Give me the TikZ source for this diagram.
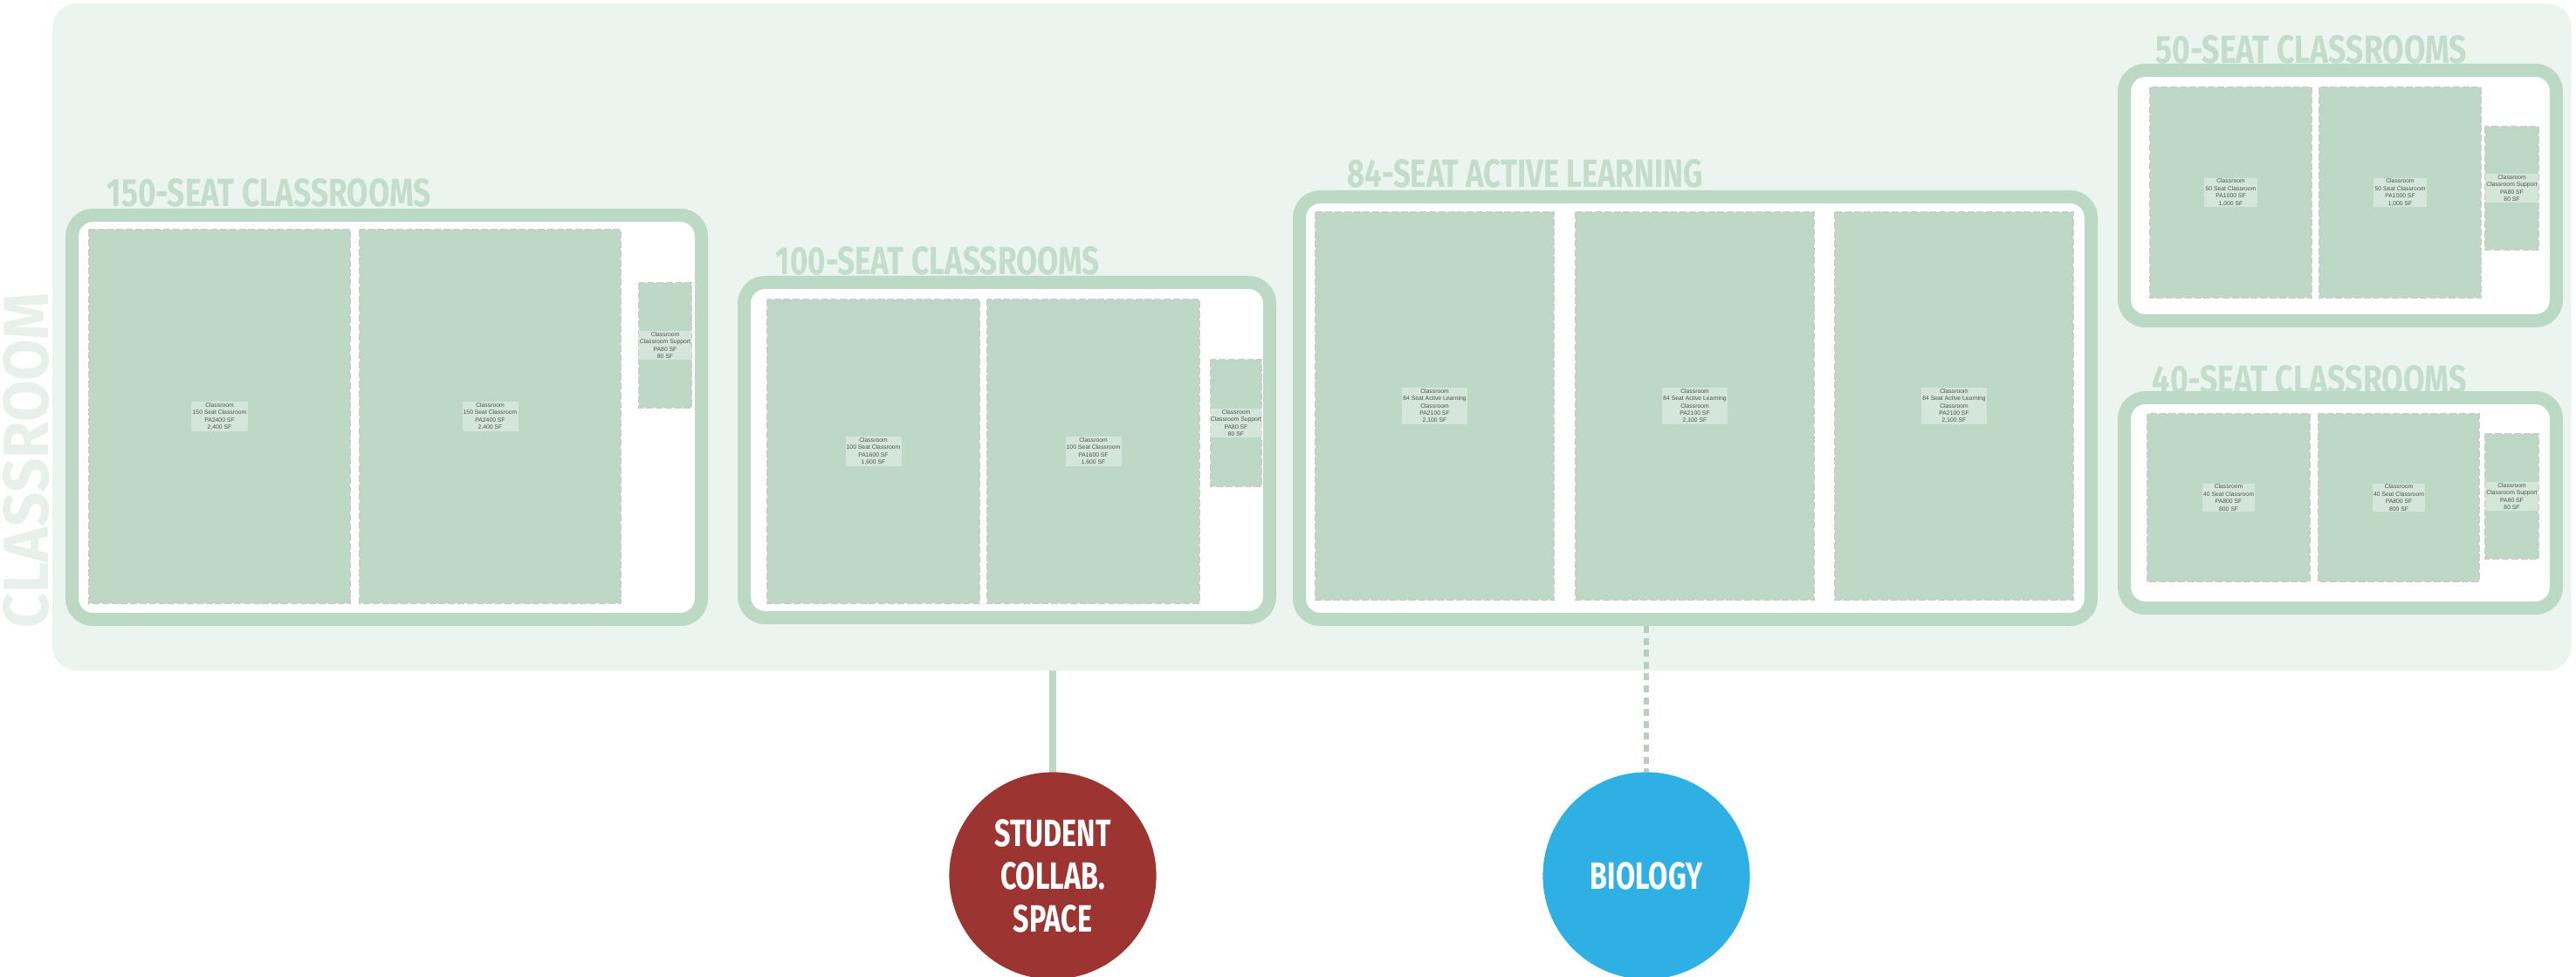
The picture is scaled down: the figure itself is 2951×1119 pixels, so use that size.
\documentclass[tikz,border=0pt]{standalone}
\usepackage{fontspec}
\setmainfont{Fira Sans}
\newfontfamily\arialf{Liberation Sans}
\usepackage{graphicx}
\usetikzlibrary{fit}
\definecolor{framegreen}{HTML}{BCD9C6}
\definecolor{roomgreen}{HTML}{BDD9C6}
\definecolor{bgcol}{HTML}{ECF4EF}
\definecolor{lblcol}{HTML}{C2DDCA}
\definecolor{cltxt}{HTML}{E8F0EB}
\definecolor{stured}{HTML}{9C3532}
\definecolor{bioblue}{HTML}{2FB0E4}
\newcommand\cnd[1]{\scalebox{0.74}[1]{#1}}
\newcommand\roombox[6]{%
  \draw[room] (#2,#3) rectangle (#4,#5);
  \node[rtxt] (#1) at ({(#2+#4)/2},{(#3+#5)/2}) {#6};}
\begin{document}
\begin{tikzpicture}[x=0.25pt,y=-0.25pt,
  frame/.style={draw=framegreen, line width=3.75pt, fill=white, rounded corners=6pt, inner sep=0pt},
  room/.style={fill=roomgreen, draw=gray!40, line width=0.3pt, dash pattern=on 2pt off 0.7pt},
  rtxt/.style={font=\arialf\fontsize{1.7}{2.1}\selectfont, text=gray!50!black, align=center, fill=white, fill opacity=0.35, text opacity=0.9, inner sep=0.3pt},
  lbl/.style={text=lblcol, inner sep=0pt, anchor=south west},
  circ/.style={circle, minimum size=59.3pt, inner sep=0pt, text=white, align=center, font=\bfseries\fontsize{10.9}{12.25}\selectfont},
  link/.style={draw=framegreen, line width=1.8pt},
  dlink/.style={draw=framegreen!90!gray, line width=1.4pt, dash pattern=on 2pt off 1.4pt}
]
\useasboundingbox (0,0) rectangle (2951,1119);
% background panel
\fill[bgcol, rounded corners=7pt] (60,4) rectangle (2946,768);
% vertical title
\node[rotate=90, inner sep=0pt, text=cltxt] (cl) at (30,527) {\resizebox{96pt}{13pt}{\bfseries CLASSROOM}};
% group labels
\node[lbl] (l150) at (122,238) {\resizebox{92.75pt}{8pt}{\bfseries 150-SEAT CLASSROOMS}};
\node[lbl] (l100) at (888,316) {\resizebox{92.75pt}{8pt}{\bfseries 100-SEAT CLASSROOMS}};
\node[lbl] (l84) at (1543,216) {\resizebox{101.75pt}{8pt}{\bfseries 84-SEAT ACTIVE LEARNING}};
\node[lbl] (l50) at (2469,74) {\resizebox{89pt}{8pt}{\bfseries 50-SEAT CLASSROOMS}};
\node[lbl] (l40) at (2465,452) {\resizebox{90pt}{8pt}{\bfseries 40-SEAT CLASSROOMS}};
% group frames
\node[frame, fit={(82.5,246.5) (803.5,709.5)}] (f150) {};
\node[frame, fit={(852.5,323.5) (1454.5,707.5)}] (f100) {};
\node[frame, fit={(1488.5,225.5) (2395.5,709.5)}] (f84) {};
\node[frame, fit={(2433.5,80.5) (2928.5,367.5)}] (f50) {};
\node[frame, fit={(2433.5,455.5) (2928.5,696.5)}] (f40) {};
% 150-seat rooms
\roombox{r150a}{102}{263}{401}{691}{Classroom\\150 Seat Classroom\\PA2400 SF\\2,400 SF}
\roombox{r150b}{412}{263}{711}{691}{Classroom\\150 Seat Classroom\\PA2400 SF\\2,400 SF}
\roombox{r150s}{732}{324}{792}{467}{Classroom\\Classroom Support\\PA80 SF\\80 SF}
% 100-seat rooms
\roombox{r100a}{879}{343}{1122}{691}{Classroom\\100 Seat Classroom\\PA1600 SF\\1,600 SF}
\roombox{r100b}{1131}{343}{1374}{691}{Classroom\\100 Seat Classroom\\PA1600 SF\\1,600 SF}
\roombox{r100s}{1387}{412}{1445}{557}{Classroom\\Classroom Support\\PA80 SF\\80 SF}
% 84-seat rooms
\roombox{r84a}{1507}{243}{1780}{687}{Classroom\\84 Seat Active Learning\\Classroom\\PA2100 SF\\2,100 SF}
\roombox{r84b}{1805}{243}{2078}{687}{Classroom\\84 Seat Active Learning\\Classroom\\PA2100 SF\\2,100 SF}
\roombox{r84c}{2102}{243}{2375}{687}{Classroom\\84 Seat Active Learning\\Classroom\\PA2100 SF\\2,100 SF}
% 50-seat rooms
\roombox{r50a}{2463}{100}{2648}{341}{Classroom\\50 Seat Classroom\\PA1000 SF\\1,000 SF}
\roombox{r50b}{2657}{100}{2842}{341}{Classroom\\50 Seat Classroom\\PA1000 SF\\1,000 SF}
\roombox{r50s}{2847}{145}{2908}{286}{Classroom\\Classroom Support\\PA80 SF\\80 SF}
% 40-seat rooms
\roombox{r40a}{2460}{474}{2646}{666}{Classroom\\40 Seat Classroom\\PA800 SF\\800 SF}
\roombox{r40b}{2656}{474}{2840}{666}{Classroom\\40 Seat Classroom\\PA800 SF\\800 SF}
\roombox{r40s}{2847}{497}{2908}{640}{Classroom\\Classroom Support\\PA80 SF\\80 SF}
% circles
\node[circ, fill=stured] (stud) at (1206,1003) {\cnd{STUDENT}\\\cnd{COLLAB.}\\\cnd{SPACE}};
\node[circ, fill=bioblue] (bio) at (1886,1003) {\cnd{BIOLOGY}};
% connectors
\coordinate (sj) at (1206,768);
\draw[link] (sj) -- (stud);
\draw[dlink] (f84.south -| bio.north) -- (bio);
\end{tikzpicture}
\end{document}
